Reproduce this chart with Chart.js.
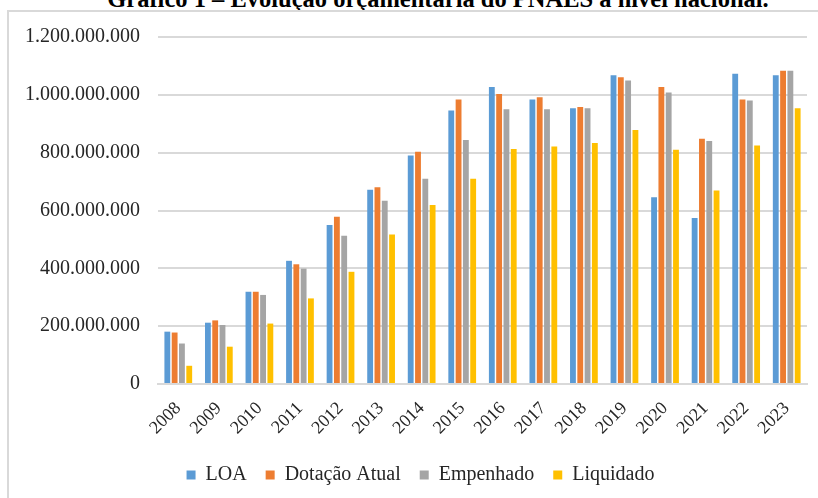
<!DOCTYPE html>
<html lang="pt-BR">
<head>
<meta charset="utf-8">
<title>Evolução orçamentária do PNAES</title>
<script src="https://cdn.jsdelivr.net/npm/chart.js@4.4.1/dist/chart.umd.min.js"></script>
<style>
  html, body { margin: 0; padding: 0; background: #ffffff; overflow: hidden; }
  body { width: 818px; height: 498px; position: relative; }
  #titulo {
    position: absolute; left: 0; top: -13px; width: 876px;
    text-align: center; font-family: "Liberation Serif", serif;
    font-weight: bold; font-size: 24.5px; line-height: 24px; color: #000;
    white-space: nowrap;
  }
  #moldura {
    position: absolute; left: 7px; top: 10px; width: 900px; height: 600px;
    border: 2px solid #d9d9d9; box-sizing: border-box;
  }
  #caixa { position: absolute; left: 0; top: 0; width: 818px; height: 498px; }
</style>
</head>
<body>
<div id="titulo">Gráfico 1 – Evolução orçamentária do PNAES a nível nacional.</div>
<div id="moldura"></div>
<div id="caixa"><canvas id="graficoPnaes"></canvas></div>
<script>
// valores em milhões de reais
var anos = ["2008", "2009", "2010", "2011", "2012", "2013", "2014", "2015",
  "2016", "2017", "2018", "2019", "2020", "2021", "2022", "2023"];
var loa        = [181, 212, 319, 426, 550, 672, 790, 946, 1027, 984, 954, 1068, 646, 574, 1073, 1068];
var dotacao    = [178, 220, 319, 414, 578, 680, 803, 984, 1003, 992, 958, 1061, 1027, 848, 984, 1083];
var empenhado  = [140, 204, 308, 399, 513, 634, 710, 844, 950, 950, 954, 1050, 1008, 840, 980, 1083];
var liquidado  = [63, 129, 209, 296, 388, 517, 619, 710, 813, 821, 833, 878, 810, 669, 825, 954];
var ticksY = [0, 200, 400, 600, 800, 1000, 1200];

var FONTE = "'Liberation Serif', 'Times New Roman', serif";
var COR_TEXTO = "#262626";
var COR_GRADE = "#d9d9d9";
var DESLOCAMENTO_LEGENDA = 12;

function emReais(lista) {
  return lista.map(function (v) { return v * 1000000; });
}

function formatarPontos(valor) {
  return String(Math.round(valor)).replace(/\B(?=(\d{3})+(?!\d))/g, ".");
}

var series = [
  { nome: "LOA", dados: loa, cor: "#5b9bd5" },
  { nome: "Dotação Atual", dados: dotacao, cor: "#ed7d31" },
  { nome: "Empenhado", dados: empenhado, cor: "#a5a5a5" },
  { nome: "Liquidado", dados: liquidado, cor: "#ffc000" }
];

var datasets = series.map(function (s) {
  return {
    label: s.nome,
    data: emReais(s.dados),
    backgroundColor: s.cor,
    borderWidth: 0,
    categoryPercentage: 0.72,
    barPercentage: 0.8
  };
});

// empurra a legenda um pouco para a direita, como no original
var moverLegenda = {
  id: "moverLegenda",
  afterLayout: function (chart) {
    if (chart.legend) {
      chart.legend.left += DESLOCAMENTO_LEGENDA;
      chart.legend.right += DESLOCAMENTO_LEGENDA;
    }
  }
};

var ctx = document.getElementById("graficoPnaes");

new Chart(ctx, {
  type: "bar",
  data: { labels: anos, datasets: datasets },
  plugins: [moverLegenda],
  options: {
    responsive: true,
    maintainAspectRatio: false,
    animation: false,
    layout: { padding: { left: 10, right: 11, top: 37, bottom: 3 } },
    plugins: {
      tooltip: { enabled: false },
      legend: {
        position: "bottom",
        labels: {
          boxWidth: 9,
          boxHeight: 9,
          padding: 19,
          color: COR_TEXTO,
          font: { family: FONTE, size: 20 }
        }
      },
      title: { display: false }
    },
    scales: {
      x: {
        grid: { display: false },
        border: { display: true, color: COR_GRADE, width: 2 },
        ticks: {
          minRotation: 45,
          maxRotation: 45,
          padding: 6,
          color: COR_TEXTO,
          font: { family: FONTE, size: 18 }
        },
        afterFit: function (escala) { escala.height = 62; }
      },
      y: {
        min: 0,
        max: 1200000000,
        afterBuildTicks: function (escala) {
          escala.ticks = ticksY.map(function (v) { return { value: v * 1000000 }; });
        },
        grid: { color: COR_GRADE, lineWidth: 2, drawTicks: false },
        border: { display: false },
        ticks: {
          padding: 18,
          color: COR_TEXTO,
          font: { family: FONTE, size: 20 },
          callback: function (valor) { return formatarPontos(valor); }
        },
        afterFit: function (escala) { escala.width = 148; }
      }
    }
  }
});
</script>
</body>
</html>
